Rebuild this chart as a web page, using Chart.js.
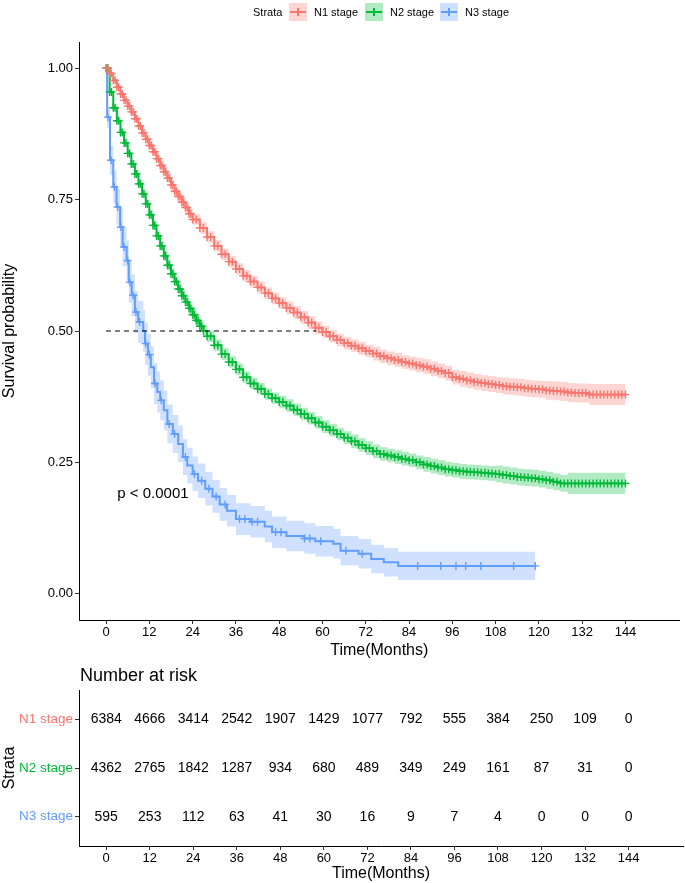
<!DOCTYPE html>
<html>
<head>
<meta charset="utf-8">
<script src="https://cdn.jsdelivr.net/npm/chart.js@4.4.1/dist/chart.umd.min.js"></script>
<style>
  body { margin: 0; background: #fff; font-family: "Liberation Sans", Arial, sans-serif; }
  #wrap { position: relative; width: 685px; height: 883px; }
  #main { position: absolute; left: 0; top: 0; }
  #risk { position: absolute; left: 0; top: 660px; }
  .lg { position: absolute; top: 5px; font-size: 11px; line-height: 14px; color: #000; white-space: nowrap; }
  .key { position: absolute; top: 3px; width: 18px; height: 18px; }
  .key i { position: absolute; left: 1px; right: 1px; top: 8px; height: 2px; }
  .key b { position: absolute; left: 8px; top: 5px; width: 2px; height: 8px; }
</style>
</head>
<body>
<div id="wrap">
  <canvas id="main" width="685" height="660"></canvas>
  <canvas id="risk" width="685" height="223"></canvas>
  <div id="legend"></div>
</div>
<script>
// strata and axis ticks
const strata = ['N1 stage', 'N2 stage', 'N3 stage'];
const lineColors = ['#F8766D', '#00BA38', '#619CFF'];
const bandColors = ['rgba(248,118,109,0.3)', 'rgba(0,186,56,0.3)', 'rgba(97,156,255,0.3)'];
const xTicks = [0, 12, 24, 36, 48, 60, 72, 84, 96, 108, 120, 132, 144];
const yTicks = [0, 0.25, 0.5, 0.75, 1];

// N1 stage survival curve (months, probability, CI half width)
const n1Time = [0, 1, 2, 3, 4, 5, 6, 7, 8, 9, 10, 11, 12, 13, 14, 15, 16, 17, 18, 19, 20, 21, 22, 23, 24,
  26, 28, 30, 32, 34, 36, 38, 40, 42, 44, 46, 48, 50, 52, 54, 56, 58, 60, 62, 64, 66, 68, 70, 72, 74, 76, 78, 80, 82, 84,
  86, 88, 90, 92, 94, 96, 98, 100, 102, 104, 106, 108, 110, 112, 114, 116, 118, 120, 122, 124, 126, 128, 130, 132, 134, 136, 138, 140, 142, 144];
const n1Surv = [1.0, 0.99, 0.977, 0.964, 0.951, 0.939, 0.928, 0.917, 0.904, 0.89, 0.877, 0.865, 0.853, 0.841, 0.828, 0.815, 0.803, 0.791, 0.778, 0.766, 0.756, 0.745, 0.735, 0.723, 0.712,
  0.696, 0.679, 0.662, 0.646, 0.632, 0.618, 0.605, 0.594, 0.583, 0.572, 0.562, 0.553, 0.544, 0.535, 0.526, 0.516, 0.506, 0.498, 0.49, 0.483, 0.477, 0.472, 0.467, 0.462, 0.457, 0.452, 0.448, 0.445, 0.441, 0.438,
  0.435, 0.432, 0.428, 0.424, 0.42, 0.412, 0.409, 0.406, 0.403, 0.401, 0.399, 0.397, 0.395, 0.394, 0.393, 0.391, 0.39, 0.389, 0.387, 0.386, 0.385, 0.383, 0.382, 0.382, 0.379, 0.379, 0.379, 0.379, 0.379, 0.379];
const n1Ci = [0, 0.003, 0.004, 0.005, 0.005, 0.006, 0.006, 0.006, 0.007, 0.007, 0.007, 0.008, 0.008, 0.008, 0.008, 0.009, 0.009, 0.009, 0.009, 0.009, 0.01, 0.01, 0.01, 0.01, 0.01,
  0.011, 0.011, 0.011, 0.011, 0.011, 0.011, 0.011, 0.011, 0.011, 0.011, 0.011, 0.011, 0.012, 0.012, 0.012, 0.012, 0.012, 0.012, 0.012, 0.012, 0.012, 0.012, 0.012, 0.012, 0.013, 0.013, 0.013, 0.013, 0.013, 0.013,
  0.014, 0.014, 0.014, 0.014, 0.014, 0.014, 0.015, 0.015, 0.015, 0.015, 0.015, 0.015, 0.016, 0.016, 0.016, 0.016, 0.016, 0.016, 0.018, 0.018, 0.018, 0.018, 0.018, 0.018, 0.02, 0.02, 0.02, 0.02, 0.02, 0.02];
// extra censoring times between the curve steps
const n1Censor = [0.5, 1.5, 2.5, 3.5, 4.5, 5.5, 6.5, 7.5, 8.5, 9.5, 10.5, 11.5, 12.5, 13.5, 14.5, 15.5, 16.5, 17.5, 18.5, 19.5, 20.5, 21.5, 22.5, 23.5,
  25, 27, 29, 31, 33, 35, 37, 39, 41, 43, 45, 47, 49, 51, 53, 55, 57, 59, 61, 63, 65, 67, 69, 71, 73, 75, 77, 79, 81, 83,
  85, 87, 89, 91, 93, 95, 97, 99, 101, 103, 105, 107, 109, 111, 113, 115, 117, 119, 121, 123, 125, 127, 129, 131, 133, 135, 137, 139, 141, 143];

// N2 stage survival curve
const n2Time = [0, 1, 2, 3, 4, 5, 6, 7, 8, 9, 10, 11, 12, 13, 14, 15, 16, 17, 18, 19, 20, 21, 22, 23, 24, 25, 26, 27,
  28, 30, 32, 34, 36, 38, 40, 42, 44, 46, 48, 50, 52, 54, 56, 58, 60, 62, 64, 66, 68, 70, 72, 74, 76, 78, 80, 82, 84, 86,
  88, 90, 92, 94, 96, 98, 100, 102, 104, 106, 108, 110, 112, 114, 116, 118, 120, 122, 124, 126, 128, 130, 132, 134, 136, 138, 140, 142, 144];
const n2Surv = [1.0, 0.955, 0.925, 0.9, 0.878, 0.858, 0.838, 0.818, 0.799, 0.78, 0.761, 0.742, 0.721, 0.701, 0.681, 0.662, 0.643, 0.625, 0.609, 0.594, 0.58, 0.567, 0.555, 0.543, 0.531, 0.52, 0.509, 0.5,
  0.49, 0.473, 0.456, 0.441, 0.427, 0.412, 0.4, 0.39, 0.38, 0.372, 0.365, 0.358, 0.35, 0.342, 0.334, 0.326, 0.318, 0.311, 0.304, 0.297, 0.29, 0.283, 0.277, 0.271, 0.266, 0.263, 0.26, 0.257, 0.254, 0.25,
  0.246, 0.243, 0.24, 0.237, 0.235, 0.233, 0.232, 0.231, 0.23, 0.229, 0.228, 0.226, 0.224, 0.222, 0.221, 0.22, 0.218, 0.216, 0.213, 0.21, 0.21, 0.21, 0.21, 0.21, 0.21, 0.21, 0.21, 0.21, 0.21];
const n2Ci = [0, 0.004, 0.005, 0.006, 0.006, 0.007, 0.007, 0.007, 0.008, 0.008, 0.008, 0.008, 0.009, 0.009, 0.009, 0.009, 0.01, 0.01, 0.01, 0.01, 0.01, 0.01, 0.011, 0.011, 0.011, 0.011, 0.011, 0.011,
  0.011, 0.011, 0.011, 0.011, 0.011, 0.011, 0.011, 0.011, 0.011, 0.011, 0.012, 0.012, 0.012, 0.012, 0.012, 0.012, 0.012, 0.012, 0.012, 0.012, 0.013, 0.013, 0.013, 0.013, 0.013, 0.013, 0.013, 0.013, 0.013, 0.013,
  0.014, 0.014, 0.014, 0.014, 0.014, 0.014, 0.014, 0.014, 0.014, 0.014, 0.016, 0.016, 0.016, 0.016, 0.016, 0.016, 0.016, 0.016, 0.016, 0.016, 0.02, 0.02, 0.02, 0.02, 0.02, 0.02, 0.02, 0.02, 0.02];
const n2Censor = [0.5, 1.5, 2.5, 3.5, 4.5, 5.5, 6.5, 7.5, 8.5, 9.5, 10.5, 11.5, 12.5, 13.5, 14.5, 15.5, 16.5, 17.5, 18.5, 19.5, 20.5, 21.5, 22.5, 23.5, 24.5, 25.5, 26.5,
  29, 31, 33, 35, 37, 39, 41, 43, 45, 47, 49, 51, 53, 55, 57, 59, 61, 63, 65, 67, 69, 71, 73, 75, 77, 79, 81, 83,
  85, 87, 89, 91, 93, 95, 97, 99, 101, 103, 105, 107, 109, 111, 113, 115, 117, 119, 121, 123, 125, 127, 129, 131, 133, 135, 137, 139, 141, 143];

// N3 stage survival curve (fewer patients, coarse steps)
const n3Time = [0, 0.3, 1.1, 2.0, 2.9, 3.9, 4.6, 5.7, 6.3, 7.1, 8.0, 8.9, 10.3, 10.8, 11.6, 12.4, 13.3, 14.2, 15.0, 16.0,
  17.0, 18.5, 20.0, 21.3, 22.5, 24.0, 25.5, 27.5, 29.5, 31.5, 33.5, 36, 40, 44, 46, 50, 55, 58, 63, 65, 70, 73.5, 77, 81, 119];
const n3Surv = [1.0, 0.907, 0.825, 0.774, 0.736, 0.698, 0.66, 0.634, 0.593, 0.568, 0.536, 0.517, 0.5, 0.476, 0.455, 0.431, 0.4, 0.384, 0.368, 0.349,
  0.323, 0.304, 0.285, 0.26, 0.244, 0.228, 0.215, 0.2, 0.185, 0.17, 0.158, 0.142, 0.137, 0.128, 0.117, 0.11, 0.105, 0.1, 0.095, 0.082, 0.076, 0.066, 0.06, 0.053, 0.053];
const n3Ci = [0, 0.02, 0.028, 0.032, 0.034, 0.036, 0.037, 0.038, 0.039, 0.04, 0.04, 0.04, 0.04, 0.04, 0.04, 0.04, 0.039, 0.039, 0.038, 0.038,
  0.037, 0.036, 0.035, 0.034, 0.034, 0.033, 0.033, 0.032, 0.031, 0.031, 0.03, 0.03, 0.03, 0.03, 0.03, 0.029, 0.029, 0.029, 0.028, 0.028, 0.028, 0.027, 0.027, 0.027, 0.027];
const n3Censor = [0.5, 1.4, 2.3, 3.2, 4.1, 5.0, 6.0, 6.6, 7.5, 8.3, 9.3, 11.0, 12.0, 13.6, 15.3, 17.5, 19.0, 22.0, 24.5, 26.5, 28.5, 30.5,
  33.0, 37.0, 38.5, 40.5, 42.0, 47.0, 48.5, 55.0, 56.5, 59.5, 66.5, 71.0, 86.4, 92.8, 97, 99.7, 103.9, 113, 119];

// median survival times (dashed line at 0.5)
const medianTimes = [58.3, 27, 10.5];
const pValueText = 'p < 0.0001';

// number at risk table
const riskTimes = [0, 12, 24, 36, 48, 60, 72, 84, 96, 108, 120, 132, 144];
const n1Risk = [6384, 4666, 3414, 2542, 1907, 1429, 1077, 792, 555, 384, 250, 109, 0];
const n2Risk = [4362, 2765, 1842, 1287, 934, 680, 489, 349, 249, 161, 87, 31, 0];
const n3Risk = [595, 253, 112, 63, 41, 30, 16, 9, 7, 4, 0, 0, 0];

Chart.defaults.font.family = '"Liberation Sans", Arial, sans-serif';
Chart.defaults.color = '#000';

// legend (HTML, above the plot)
const legend = document.getElementById('legend');
legend.innerHTML = '<span class="lg" style="left:253px">Strata</span>' + strata.map((s, i) => {
  const left = [289, 365, 440][i];
  return `<span class="key" style="left:${left}px;background:${bandColors[i]}"><i style="background:${lineColors[i]}"></i><b style="background:${lineColors[i]}"></b></span>` +
    `<span class="lg" style="left:${left + 25}px">${s}</span>`;
}).join('');

function stepAt(times, vals, t) {
  let v = vals[0];
  for (let i = 0; i < times.length; i++) if (times[i] <= t) v = vals[i];
  return v;
}

function kmSets(time, surv, ci, censor, idx) {
  const line = {
    data: time.map((t, i) => ({ x: t, y: surv[i] })),
    borderColor: lineColors[idx], backgroundColor: lineColors[idx],
    borderWidth: 2, stepped: true, fill: false, order: 1,
    pointStyle: 'cross', pointRadius: idx < 2 ? 4 : 0, pointBorderWidth: 1.4, pointBorderColor: lineColors[idx]
  };
  const upper = {
    data: time.map((t, i) => ({ x: t, y: Math.min(1, surv[i] + ci[i]) })),
    borderWidth: 0, pointRadius: 0, stepped: true, fill: false, order: 10
  };
  const lower = {
    data: time.map((t, i) => ({ x: t, y: surv[i] - ci[i] })),
    borderWidth: 0, pointRadius: 0, stepped: true, fill: '-1', backgroundColor: bandColors[idx], order: 10
  };
  const marks = {
    data: censor.map(t => ({ x: t, y: stepAt(time, surv, t) })),
    showLine: false, pointStyle: 'cross', pointRadius: 4, pointBorderWidth: 1.4,
    borderColor: lineColors[idx], backgroundColor: lineColors[idx], order: 0
  };
  return [line, upper, lower, marks];
}

function xAxis(h) {
  return {
    type: 'linear', min: -7.5, max: 159,
    afterBuildTicks: s => { s.ticks = xTicks.map(v => ({ value: v })); },
    afterFit: s => { s.height = h; },
    ticks: { font: { size: 13 }, color: '#000', padding: 1, maxRotation: 0, autoSkip: false, callback: v => String(v) },
    grid: { drawOnChartArea: false, tickLength: 4, color: '#333' },
    border: { color: '#000', width: 1 },
    title: { display: true, text: 'Time(Months)', font: { size: 16 }, color: '#000', padding: { top: 0, bottom: 0 } }
  };
}

const mainText = {
  id: 'mainText',
  afterDatasetsDraw(chart) {
    const { ctx, scales } = chart;
    ctx.save();
    ctx.fillStyle = '#000';
    ctx.font = '15px "Liberation Sans", Arial, sans-serif';
    ctx.textAlign = 'center';
    ctx.textBaseline = 'middle';
    ctx.fillText(pValueText, scales.x.getPixelForValue(13), scales.y.getPixelForValue(0.19));
    ctx.restore();
  }
};

const datasets = [
  {
    data: [{ x: 0, y: 0.5 }, { x: Math.max(...medianTimes), y: 0.5 }],
    borderColor: '#000', borderWidth: 1.2, borderDash: [5, 4], pointRadius: 0, order: 0
  },
  ...kmSets(n1Time, n1Surv, n1Ci, n1Censor, 0),
  ...kmSets(n2Time, n2Surv, n2Ci, n2Censor, 1),
  ...kmSets(n3Time, n3Surv, n3Ci, n3Censor, 2)
];

new Chart(document.getElementById('main'), {
  type: 'line',
  data: { datasets },
  options: {
    responsive: false, animation: false,
    layout: { padding: { top: 42, right: 2, left: 0, bottom: 0 } },
    plugins: { legend: { display: false }, tooltip: { enabled: false } },
    scales: {
      x: xAxis(40),
      y: {
        type: 'linear', min: -0.05, max: 1.05,
        afterBuildTicks: s => { s.ticks = yTicks.map(v => ({ value: v })); },
        afterFit: s => { s.width = 79; },
        ticks: { font: { size: 13 }, color: '#000', padding: 2, callback: v => v.toFixed(2) },
        grid: { drawOnChartArea: false, tickLength: 4, color: '#333' },
        border: { color: '#000', width: 1 },
        title: { display: true, text: 'Survival probability', font: { size: 16 }, color: '#000', padding: { top: 0, bottom: 0 } }
      }
    }
  },
  plugins: [mainText]
});

// risk table
const riskRows = [n1Risk, n2Risk, n3Risk];
const riskText = {
  id: 'riskText',
  afterDatasetsDraw(chart) {
    const { ctx } = chart;
    ctx.save();
    ctx.fillStyle = '#000';
    ctx.textAlign = 'center';
    ctx.textBaseline = 'middle';
    ctx.font = '14px "Liberation Sans", Arial, sans-serif';
    chart.data.datasets.forEach((ds, r) => {
      chart.getDatasetMeta(r).data.forEach((pt, i) => {
        ctx.fillText(String(ds.data[i].n), pt.x, pt.y);
      });
    });
    ctx.textAlign = 'left';
    ctx.font = '18px "Liberation Sans", Arial, sans-serif';
    ctx.fillText('Number at risk', chart.chartArea.left + 1, 16);
    ctx.restore();
  }
};

new Chart(document.getElementById('risk'), {
  type: 'scatter',
  data: {
    datasets: riskRows.map((row, r) => ({
      data: riskTimes.map((t, i) => ({ x: t, y: r + 1, n: row[i] })),
      pointRadius: 0
    }))
  },
  options: {
    responsive: false, animation: false,
    layout: { padding: { top: 30, right: 2, left: 0, bottom: 0 } },
    plugins: { legend: { display: false }, tooltip: { enabled: false } },
    scales: {
      x: xAxis(37),
      y: {
        type: 'linear', min: 0.4, max: 3.6, reverse: true,
        afterBuildTicks: s => { s.ticks = [1, 2, 3].map(v => ({ value: v })); },
        afterFit: s => { s.width = 79; },
        ticks: { font: { size: 13.5 }, padding: 2, color: c => lineColors[c.index], callback: v => strata[v - 1] },
        grid: { drawOnChartArea: false, tickLength: 4, color: '#333' },
        border: { color: '#000', width: 1 },
        title: { display: true, text: 'Strata', font: { size: 16 }, color: '#000', padding: { top: 0, bottom: 0 } }
      }
    }
  },
  plugins: [riskText]
});
</script>
</body>
</html>
